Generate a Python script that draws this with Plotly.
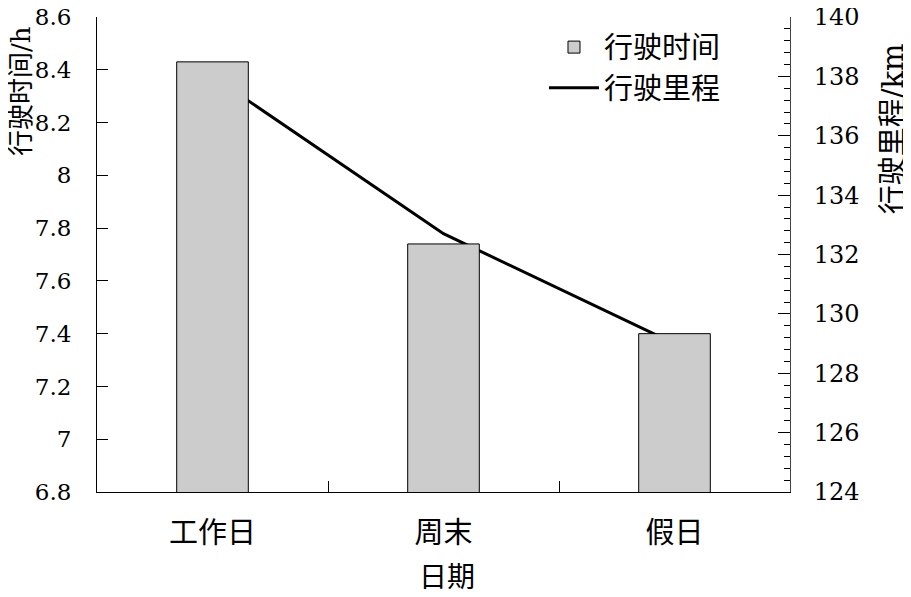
import plotly.graph_objects as go

categories = ["工作日", "周末", "假日"]
driving_time_h = [8.43, 7.74, 7.40]
driving_distance_km = [138.0, 132.7, 129.0]

left_ticks = [6.8, 7.0, 7.2, 7.4, 7.6, 7.8, 8.0, 8.2, 8.4, 8.6]
left_tick_text = ["6.8", "7", "7.2", "7.4", "7.6", "7.8", "8", "8.2", "8.4", "8.6"]
right_ticks = [124, 126, 128, 130, 132, 134, 136, 138, 140]

NUM_FONT = "DejaVu Serif"
CJK_FONT = "Noto Sans CJK SC"
MIX_FONT = "DejaVu Serif, Noto Sans CJK SC"

fig = go.Figure()

# line on primary y (right side), drawn underneath
fig.add_trace(go.Scatter(
    x=categories, y=driving_distance_km, name="行驶里程",
    mode="lines", line=dict(color="black", width=3),
    xaxis="x", yaxis="y", legendrank=2,
))
# bars on overlay y2 (left side), drawn on top
fig.add_trace(go.Bar(
    x=categories, y=driving_time_h, name="行驶时间",
    marker=dict(color="#cccccc", line=dict(color="black", width=1)),
    width=0.31, xaxis="x", yaxis="y2", legendrank=1,
))

fig.update_layout(
    template="none",
    width=903, height=589,
    margin=dict(l=89, r=121, t=9, b=105, autoexpand=False),
    plot_bgcolor="white", paper_bgcolor="white",
    font=dict(family=MIX_FONT, color="black", size=23),
    showlegend=True,
    legend=dict(
        x=0.645, y=0.99, xanchor="left", yanchor="top",
        bgcolor="rgba(0,0,0,0)", font=dict(family=CJK_FONT, size=29),
        itemwidth=50, tracegroupgap=0,
    ),
    xaxis=dict(
        type="category", range=[-0.5, 2.5], automargin=False,
        showline=True, linecolor="black", linewidth=1,
        ticks="inside", ticklen=11, tickcolor="black", tickson="boundaries",
        tickfont=dict(family=CJK_FONT, size=29),
        ticklabelstandoff=15,
        showgrid=False, zeroline=False, mirror=False,
    ),
    yaxis=dict(
        side="right", range=[124, 140], automargin=False,
        tickvals=right_ticks, ticklabeloverflow="allow",
        showline=True, linecolor="#444444", linewidth=1,
        ticks="inside", ticklen=12, tickcolor="black",
        minor=dict(dtick=0.4, ticks="inside", ticklen=6, tickcolor="black", showgrid=False),
        tickfont=dict(family=NUM_FONT, size=24),
        ticklabelstandoff=18,
        showgrid=False, zeroline=False,
    ),
    yaxis2=dict(
        side="left", overlaying="y", range=[6.8, 8.6], automargin=False,
        tickvals=left_ticks, ticktext=left_tick_text, ticklabeloverflow="allow",
        showline=True, linecolor="black", linewidth=1,
        ticks="inside", ticklen=11, tickcolor="black",
        tickfont=dict(family=NUM_FONT, size=23),
        ticklabelstandoff=20,
        showgrid=False, zeroline=False,
    ),
    annotations=[
        dict(text="行驶时间/h", xref="paper", yref="paper", x=-0.1097, y=0.844,
             xanchor="center", yanchor="middle", textangle=-90, showarrow=False,
             font=dict(family=MIX_FONT, size=26)),
        dict(text="行驶里程/km", xref="paper", yref="paper", x=1.149, y=0.764,
             xanchor="center", yanchor="middle", textangle=-90, showarrow=False,
             font=dict(family=MIX_FONT, size=29)),
        dict(text="日期", xref="paper", yref="paper", x=0.505, y=-0.174,
             xanchor="center", yanchor="middle", showarrow=False,
             font=dict(family=CJK_FONT, size=28)),
    ],
)

fig.write_html("out.html")
